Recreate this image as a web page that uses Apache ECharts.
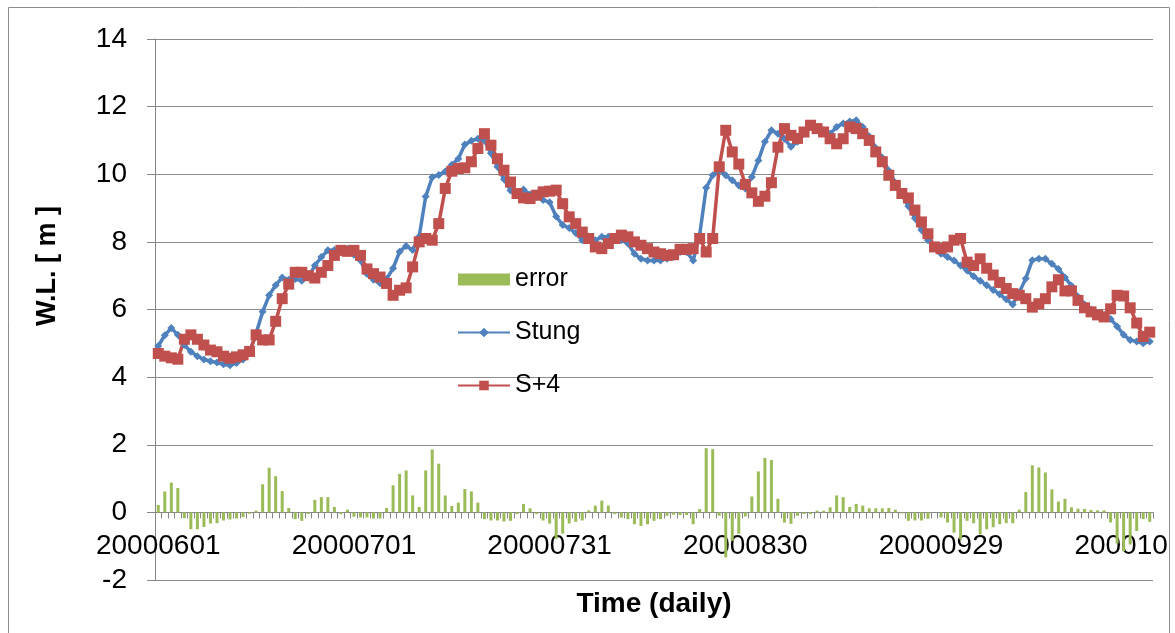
<!DOCTYPE html>
<html>
<head>
<meta charset="utf-8">
<title>Stung water level</title>
<script src="https://cdn.jsdelivr.net/npm/echarts@6/dist/echarts.min.js"></script>
<style>
  html, body { margin: 0; padding: 0; background: #ffffff; }
  #chart { width: 1175px; height: 633px; }
</style>
</head>
<body>
<div id="chart"></div>
<script>
// Daily categories: 2000-06-01 .. 2000-10-31
const firstDay = { year: 2000, month: 6, day: 1 };
const dayCount = 153;
const dates = [];
for (let k = 0; k < dayCount; k++) {
  const d = new Date(Date.UTC(firstDay.year, firstDay.month - 1, firstDay.day + k));
  dates.push(
    String(d.getUTCFullYear()) +
    String(d.getUTCMonth() + 1).padStart(2, '0') +
    String(d.getUTCDate()).padStart(2, '0')
  );
}

// Observed water level at Stung (m)
const stung = [
  4.92, 5.24, 5.45, 5.25, 4.95, 4.75, 4.62, 4.52, 4.47, 4.43,
  4.38, 4.35, 4.42, 4.52, 4.72, 5.30, 5.93, 6.42, 6.72, 6.95,
  6.88, 6.90, 6.85, 6.95, 7.30, 7.55, 7.75, 7.76, 7.70, 7.80,
  7.62, 7.45, 7.05, 6.88, 6.78, 6.90, 7.22, 7.71, 7.88, 7.76,
  8.16, 9.34, 9.91, 9.98, 10.08, 10.28, 10.46, 10.88, 10.99, 11.05,
  11.00, 10.62, 10.22, 9.85, 9.52, 9.38, 9.55, 9.40, 9.33, 9.24,
  9.17, 8.75, 8.50, 8.41, 8.26, 8.05, 8.16, 8.05, 8.15, 8.15,
  8.05, 8.05, 7.95, 7.65, 7.50, 7.45, 7.45, 7.45, 7.50, 7.55,
  7.70, 7.70, 7.45, 8.20, 9.60, 9.97, 10.12, 9.97, 9.82, 9.67,
  9.58, 9.92, 10.41, 10.96, 11.30, 11.20, 11.05, 10.81, 10.96, 11.20,
  11.40, 11.40, 11.30, 11.20, 11.40, 11.50, 11.56, 11.60, 11.40, 11.12,
  10.78, 10.49, 10.10, 9.75, 9.40, 9.05, 8.70, 8.35, 8.05, 7.85,
  7.65, 7.55, 7.45, 7.30, 7.15, 6.98, 6.85, 6.72, 6.58, 6.45,
  6.30, 6.15, 6.50, 6.92, 7.46, 7.50, 7.50, 7.35, 7.20, 6.95,
  6.70, 6.38, 6.15, 6.00, 5.90, 5.84, 5.72, 5.50, 5.25, 5.10,
  5.05, 5.00, 5.05
];

// Forecast S+4 (m)
const s4 = [
  4.70, 4.62, 4.57, 4.53, 5.12, 5.25, 5.12, 4.95, 4.80, 4.75,
  4.62, 4.56, 4.60, 4.66, 4.76, 5.25, 5.10, 5.10, 5.65, 6.32,
  6.75, 7.10, 7.10, 7.00, 6.93, 7.10, 7.30, 7.60, 7.75, 7.72,
  7.75, 7.60, 7.20, 7.06, 6.96, 6.77, 6.42, 6.57, 6.64, 7.26,
  8.00, 8.10, 8.05, 8.54, 9.58, 10.09, 10.17, 10.19, 10.37, 10.76,
  11.20, 10.86, 10.46, 10.12, 9.77, 9.43, 9.30, 9.28, 9.38, 9.48,
  9.50, 9.53, 9.13, 8.74, 8.54, 8.29, 8.10, 7.85, 7.80, 7.95,
  8.10, 8.20, 8.15, 8.00, 7.90, 7.80, 7.70, 7.65, 7.60, 7.62,
  7.78, 7.78, 7.80, 8.10, 7.70, 8.10, 10.22, 11.30, 10.66, 10.30,
  9.70, 9.45, 9.20, 9.35, 9.75, 10.80, 11.35, 11.15, 11.06, 11.25,
  11.45, 11.35, 11.25, 11.05, 10.90, 11.05, 11.40, 11.35, 11.20, 11.00,
  10.66, 10.37, 9.97, 9.67, 9.43, 9.30, 8.94, 8.59, 8.24, 7.85,
  7.80, 7.85, 8.05, 8.10, 7.40, 7.30, 7.50, 7.22, 7.02, 6.80,
  6.62, 6.47, 6.42, 6.32, 6.07, 6.17, 6.32, 6.67, 6.88, 6.55,
  6.55, 6.27, 6.05, 5.93, 5.84, 5.78, 6.02, 6.42, 6.40, 6.05,
  5.60, 5.20, 5.33
];

// Daily error (m)
const errorVals = [
  0.22, 0.62, 0.88, 0.72, -0.17, -0.50, -0.50, -0.43, -0.33, -0.32,
  -0.24, -0.21, -0.18, -0.14, -0.04, 0.05, 0.83, 1.32, 1.07, 0.63,
  0.13, -0.20, -0.25, -0.05, 0.37, 0.45, 0.45, 0.16, -0.05, 0.08,
  -0.13, -0.15, -0.15, -0.18, -0.18, 0.13, 0.80, 1.14, 1.24, 0.50,
  0.16, 1.24, 1.86, 1.44, 0.50, 0.19, 0.29, 0.69, 0.62, 0.29,
  -0.20, -0.24, -0.24, -0.27, -0.25, -0.05, 0.25, 0.12, -0.05, -0.24,
  -0.33, -0.78, -0.63, -0.33, -0.28, -0.24, 0.06, 0.20, 0.35, 0.20,
  -0.05, -0.15, -0.20, -0.35, -0.40, -0.35, -0.25, -0.20, -0.10, -0.07,
  -0.08, -0.08, -0.35, 0.10, 1.90, 1.87, -0.10, -1.33, -0.84, -0.63,
  -0.12, 0.47, 1.21, 1.61, 1.55, 0.40, -0.30, -0.34, -0.10, -0.05,
  -0.05, 0.05, 0.05, 0.15, 0.50, 0.45, 0.16, 0.25, 0.20, 0.12,
  0.12, 0.12, 0.13, 0.08, -0.03, -0.25, -0.24, -0.24, -0.19, 0.00,
  -0.15, -0.30, -0.60, -0.80, -0.25, -0.32, -0.65, -0.50, -0.44, -0.35,
  -0.32, -0.32, 0.08, 0.60, 1.39, 1.33, 1.18, 0.68, 0.32, 0.40,
  0.15, 0.11, 0.10, 0.07, 0.06, 0.06, -0.30, -0.92, -1.15, -0.95,
  -0.55, -0.20, -0.28
];

// Value axis range
const yMin = -2;
const yMax = 14;
const yStep = 2;
const dateLabelEvery = 30;

const FONT = '"Liberation Sans", Arial, sans-serif';
const AXIS_GREY = '#868686';
const GRID_GREY = '#8c8c8c';

// Plot box (px)
const GRID = { left: 155, right: 22, top: 39, bottom: 53 };
const plotHeight = 633 - GRID.top - GRID.bottom;
// The category axis sits on the zero line: shift it up from the bottom edge
const zeroShift = plotHeight * (0 - yMin) / (yMax - yMin);

const chart = echarts.init(document.getElementById('chart'), null, { renderer: 'canvas' });

chart.setOption({
  animation: false,
  backgroundColor: '#ffffff',
  grid: { left: GRID.left, right: GRID.right, top: GRID.top, bottom: GRID.bottom, containLabel: false, outerBoundsMode: 'none' },
  legend: {
    orient: 'vertical',
    left: 452,
    top: 262,
    itemWidth: 52,
    itemHeight: 12,
    itemGap: 28,
    textStyle: { fontFamily: FONT, fontSize: 25, color: '#000' },
    data: [{ name: 'error', icon: 'rect' }, { name: 'Stung' }, { name: 'S+4' }]
  },
  xAxis: {
    type: 'category',
    data: dates,
    boundaryGap: true,
    position: 'bottom',
    offset: -zeroShift,
    axisLine: { show: true, onZero: false, lineStyle: { color: AXIS_GREY, width: 1 } },
    axisTick: { show: true, interval: 0, length: 6, inside: false, lineStyle: { color: AXIS_GREY } },
    axisLabel: { interval: dateLabelEvery - 1, margin: 20, fontFamily: FONT, fontSize: 28, color: '#000', hideOverlap: false },
    splitLine: { show: false },
    name: 'Time (daily)',
    nameLocation: 'middle',
    nameGap: 78,
    nameTextStyle: { fontFamily: FONT, fontSize: 28, fontWeight: 'bold', color: '#000' }
  },
  yAxis: {
    type: 'value',
    min: yMin,
    max: yMax,
    interval: yStep,
    axisLine: { show: true, lineStyle: { color: AXIS_GREY, width: 1 } },
    axisTick: { show: true, length: 8, inside: false, lineStyle: { color: AXIS_GREY } },
    axisLabel: { margin: 28, fontFamily: FONT, fontSize: 28, color: '#000' },
    splitLine: { show: true, lineStyle: { color: GRID_GREY, width: 1 } }
  },
  series: [
    {
      name: 'error',
      type: 'bar',
      data: errorVals,
      barWidth: 3,
      itemStyle: { color: '#9BBB59' }
    },
    {
      name: 'Stung',
      type: 'line',
      data: stung,
      symbol: 'diamond',
      symbolSize: 8,
      showSymbol: true,
      showAllSymbol: true,
      lineStyle: { color: '#4F81BD', width: 3.5 },
      itemStyle: { color: '#4F81BD' }
    },
    {
      name: 'S+4',
      type: 'line',
      data: s4,
      symbol: 'rect',
      symbolSize: 11,
      showSymbol: true,
      showAllSymbol: true,
      lineStyle: { color: '#C0504D', width: 3.5 },
      itemStyle: { color: '#C0504D' }
    }
  ],
  graphic: [
    {
      type: 'rect',
      left: 1169,
      top: 0,
      z: 100,
      silent: true,
      shape: { width: 6, height: 633 },
      style: { fill: '#ffffff' }
    },
    {
      type: 'rect',
      z: 101,
      silent: true,
      shape: { x: 8.5, y: 7.5, width: 1161, height: 640 },
      style: { fill: 'none', stroke: '#8c8c8c', lineWidth: 1 }
    },
    {
      type: 'text',
      x: 48,
      y: 266,
      rotation: Math.PI / 2,
      silent: true,
      style: {
        text: 'W.L. [ m ]',
        font: 'bold 27px "Liberation Sans", Arial, sans-serif',
        fill: '#000',
        textAlign: 'center',
        textVerticalAlign: 'middle',
        align: 'center',
        verticalAlign: 'middle'
      }
    }
  ]
});
</script>
</body>
</html>
